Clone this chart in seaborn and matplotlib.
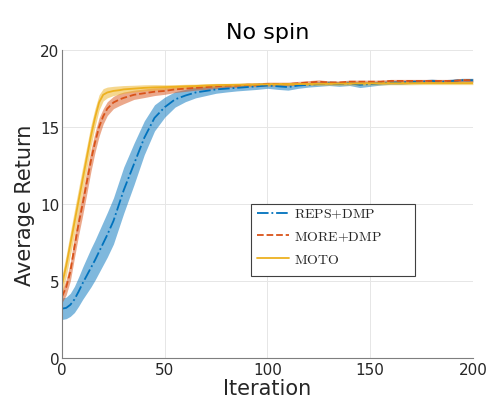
import numpy as np
import pandas as pd
import matplotlib
matplotlib.use("Agg")
import matplotlib.pyplot as plt
from matplotlib.patches import Rectangle
import seaborn as sns

# ---- data ----
iters = [0, 2, 4, 6, 8, 10, 12, 14, 16, 18, 20, 22, 25, 28, 30, 35, 40, 45, 50,
         55, 60, 65, 70, 75, 80, 85, 90, 95, 100, 105, 110, 115, 120, 125, 130,
         135, 140, 145, 150, 155, 160, 165, 170, 175, 180, 185, 190, 195, 200]

reps_mean = [3.2, 3.25, 3.45, 3.8, 4.3, 4.85, 5.35, 5.85, 6.35, 6.9, 7.45, 8.0, 8.9, 10.1, 10.9,
             12.6, 14.3, 15.6, 16.3, 16.8, 17.05, 17.25, 17.35, 17.45, 17.5, 17.55,
             17.6, 17.65, 17.7, 17.65, 17.6, 17.7, 17.75, 17.8, 17.85, 17.8, 17.85,
             17.75, 17.8, 17.85, 17.9, 17.9, 17.95, 17.95, 18.0, 17.95, 18.0, 18.05, 18.05]
reps_std = [0.7, 0.7, 0.75, 0.85, 0.95, 1.05, 1.15, 1.25, 1.3, 1.35, 1.4, 1.45, 1.5, 1.5, 1.5,
            1.35, 1.1, 0.85, 0.65, 0.5, 0.4, 0.35, 0.3, 0.25, 0.22, 0.2, 0.2, 0.2, 0.18,
            0.2, 0.2, 0.18, 0.15, 0.15, 0.15, 0.15, 0.15, 0.18, 0.15, 0.12, 0.12, 0.12,
            0.12, 0.12, 0.12, 0.12, 0.12, 0.12, 0.12]

more_mean = [4.0, 4.6, 5.6, 7.2, 8.7, 10.0, 11.4, 12.8, 14.0, 15.0, 15.7, 16.2, 16.6, 16.8, 16.9,
             17.1, 17.2, 17.3, 17.35, 17.45, 17.5, 17.55, 17.6, 17.65, 17.7, 17.7, 17.75,
             17.75, 17.8, 17.8, 17.8, 17.85, 17.9, 17.95, 17.9, 17.9, 17.95, 17.95, 17.95,
             17.95, 18.0, 18.0, 18.0, 18.0, 18.0, 18.0, 18.0, 18.05, 18.05]
more_std = [0.4, 0.5, 0.6, 0.7, 0.75, 0.75, 0.75, 0.7, 0.65, 0.6, 0.5, 0.45, 0.4, 0.4, 0.38,
            0.3, 0.28, 0.25, 0.22, 0.2, 0.18, 0.15, 0.15, 0.15, 0.12, 0.12, 0.12, 0.12,
            0.12, 0.12, 0.12, 0.12, 0.12, 0.12, 0.1, 0.1, 0.1, 0.1, 0.1, 0.1, 0.1, 0.1,
            0.1, 0.1, 0.1, 0.1, 0.1, 0.1, 0.1]

moto_mean = [4.8, 6.0, 7.4, 8.8, 10.2, 11.6, 13.0, 14.4, 15.6, 16.6, 17.1, 17.25, 17.35, 17.4, 17.45,
             17.5, 17.55, 17.58, 17.6, 17.62, 17.65, 17.67, 17.7, 17.72, 17.74, 17.75, 17.76,
             17.77, 17.78, 17.79, 17.8, 17.8, 17.8, 17.81, 17.82, 17.82, 17.83, 17.83, 17.84,
             17.84, 17.85, 17.85, 17.85, 17.86, 17.86, 17.86, 17.86, 17.86, 17.86]
moto_std = [0.6, 0.7, 0.75, 0.8, 0.8, 0.8, 0.75, 0.7, 0.6, 0.5, 0.4, 0.35, 0.3, 0.28, 0.25,
            0.22, 0.2, 0.18, 0.15, 0.14, 0.13, 0.12, 0.12, 0.12, 0.1, 0.1, 0.1, 0.1, 0.1,
            0.1, 0.1, 0.1, 0.1, 0.1, 0.1, 0.1, 0.1, 0.1, 0.1, 0.1, 0.1, 0.1, 0.1, 0.1,
            0.1, 0.1, 0.1, 0.1, 0.1]

labels = ["REPS+DMP", "MORE+DMP", "MOTO"]
colors = ["#0072BD", "#D95319", "#EDB120"]
styles = ["-.", "--", "-"]

x_ticks = [0, 50, 100, 150, 200]
y_ticks = [0, 5, 10, 15, 20]

# ---- plotting ----
sns.set_theme(style="whitegrid")
plt.rcParams["font.family"] = ["DejaVu Sans"]
plt.rcParams["mathtext.fontset"] = "cm"

fig = plt.figure(figsize=(4.89, 4.06), dpi=100)
ax = fig.add_axes([0.127, 0.116, 0.840, 0.758])

means = [reps_mean, more_mean, moto_mean]
stds = [reps_std, more_std, moto_std]
x = np.array(iters)
for lab, m, s, c, ls in zip(labels, means, stds, colors, styles):
    m = np.array(m); s = np.array(s)
    ax.fill_between(x, m - s, m + s, color=c, alpha=0.5, linewidth=0)
    df = pd.DataFrame({"Iteration": x, "ret": m})
    sns.lineplot(data=df, x="Iteration", y="ret", ax=ax, color=c, linestyle=ls,
                 linewidth=1.3, label=r"$\mathrm{" + lab.replace("+", "{+}") + "}$")

ax.set_xlim(0, 200)
ax.set_ylim(0, 20)
ax.set_xticks(x_ticks)
ax.set_yticks(y_ticks)
ax.tick_params(axis="both", labelsize=11, colors="#262626", direction="in",
               length=3, width=0.6, pad=2)
ax.tick_params(axis="x", pad=3)
ax.grid(True, color="#e6e6e6", linewidth=0.7)
for side in ["top", "right"]:
    ax.spines[side].set_visible(False)
for side in ["left", "bottom"]:
    ax.spines[side].set_color("#7f7f7f")
    ax.spines[side].set_linewidth(0.8)

ax.set_xlabel("Iteration", fontsize=15, color="#262626", labelpad=1)
ax.set_ylabel("Average Return", fontsize=15, color="#262626", labelpad=4)
ax.set_title("No spin", fontsize=16, color="black", pad=9)

# MATLAB-style legend box (wider than its content)
box = Rectangle((0.460, 0.266), 0.399, 0.234, transform=ax.transAxes,
                facecolor="white", edgecolor="#404040", linewidth=0.8, zorder=4.5)
ax.add_patch(box)
leg = ax.legend(loc="upper left", bbox_to_anchor=(0.474, 0.492), fontsize=10,
                frameon=False, borderpad=0, borderaxespad=0,
                handlelength=2.35, handletextpad=0.3, labelspacing=0.62)
leg.set_zorder(5)

fig.savefig("out.png", dpi=100)
